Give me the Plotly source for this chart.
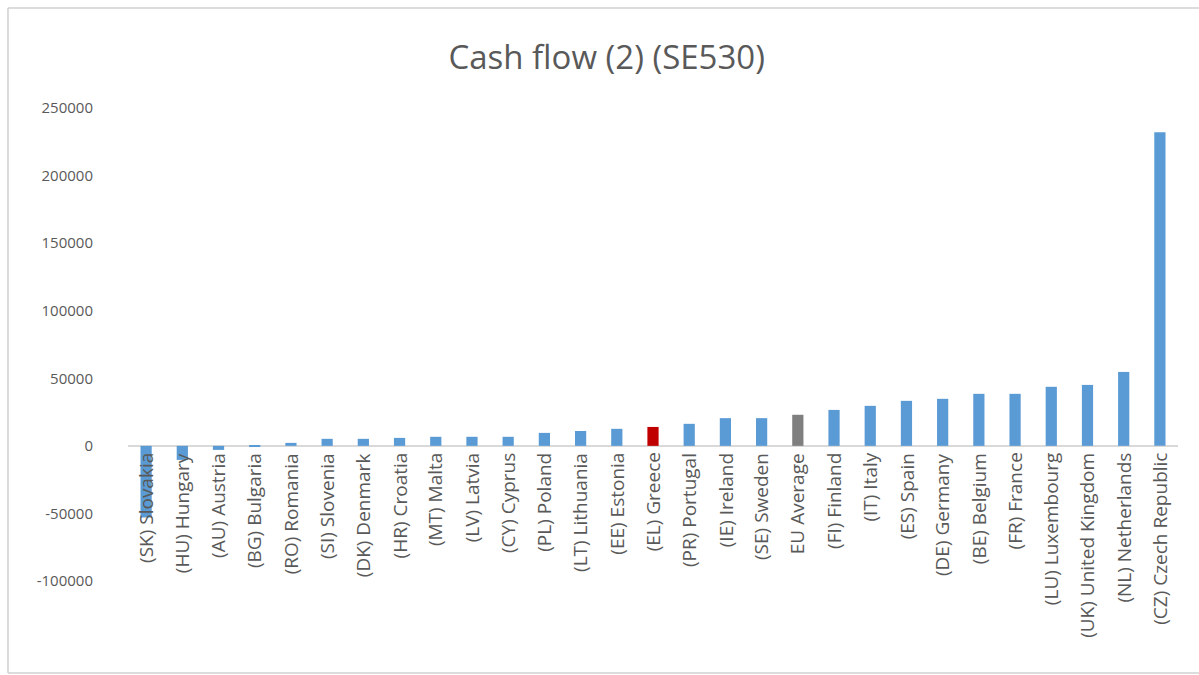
import plotly.graph_objects as go

# Categories, ordered from lowest to highest cash flow
countries = [
    "(SK) Slovakia", "(HU) Hungary", "(AU) Austria", "(BG) Bulgaria", "(RO) Romania",
    "(SI) Slovenia", "(DK) Denmark", "(HR) Croatia", "(MT) Malta", "(LV) Latvia",
    "(CY) Cyprus", "(PL) Poland", "(LT) Lithuania", "(EE) Estonia", "(EL) Greece",
    "(PR) Portugal", "(IE) Ireland", "(SE) Sweden", "EU Average", "(FI) Finland",
    "(IT) Italy", "(ES) Spain", "(DE) Germany", "(BE) Belgium", "(FR) France",
    "(LU) Luxembourg", "(UK) United Kingdom", "(NL) Netherlands", "(CZ) Czech Republic",
]

cash_flow = [
    -53000, -10400, -3000, -500, 2200,
    5200, 5200, 5900, 6700, 6700,
    6700, 9600, 11000, 12600, 14000,
    16300, 20500, 20500, 23000, 26600,
    29600, 33300, 34800, 38500, 38500,
    43700, 45100, 54700, 232000,
]

y_ticks = [-100000, -50000, 0, 50000, 100000, 150000, 200000, 250000]

BLUE = "#5B9BD5"
RED = "#C00000"
GREY = "#7F7F7F"
TEXT = "#595959"

bar_colors = []
for name in countries:
    if name == "(EL) Greece":
        bar_colors.append(RED)
    elif name == "EU Average":
        bar_colors.append(GREY)
    else:
        bar_colors.append(BLUE)

fig = go.Figure(
    go.Bar(
        x=countries,
        y=cash_flow,
        marker=dict(color=bar_colors, line=dict(width=0)),
        showlegend=False,
    )
)

# Category labels sit just under the zero line, rotated upward
for name in countries:
    fig.add_annotation(
        x=name, y=0, xref="x", yref="y",
        text=name, textangle=-90,
        showarrow=False, xanchor="center", yanchor="top",
        yshift=-5,
        font=dict(family="Open Sans", size=19, color=TEXT),
    )

# Light chart frame around the whole figure
frame = dict(color="#D0D0D0", width=1.5)
fig.add_shape(type="line", xref="paper", yref="paper",
              x0=-0.1143, x1=-0.1143, y0=-0.1945, y1=1.2114, line=frame)
fig.add_shape(type="line", xref="paper", yref="paper",
              x0=-0.1143, x1=1.03, y0=1.2114, y1=1.2114, line=frame)
fig.add_shape(type="line", xref="paper", yref="paper",
              x0=-0.1143, x1=1.03, y0=-0.1945, y1=-0.1945, line=frame)

fig.update_layout(
    width=1199,
    height=675,
    margin=dict(l=128, r=21, t=108, b=94),
    paper_bgcolor="white",
    plot_bgcolor="white",
    bargap=0.69,
    title=dict(
        text="Cash flow (2) (SE530)",
        x=0.506, xref="container", xanchor="center",
        y=0.915, yref="container", yanchor="middle",
        font=dict(family="Open Sans", size=33, color=TEXT),
    ),
    xaxis=dict(
        showticklabels=False,
        showgrid=False,
        showline=False,
        zeroline=False,
        ticks="",
    ),
    yaxis=dict(
        range=[-100000, 250000],
        tickvals=y_ticks,
        ticktext=[str(v) for v in y_ticks],
        showgrid=False,
        showline=False,
        zeroline=True,
        zerolinecolor="#D9D9D9",
        zerolinewidth=1.5,
        ticks="",
        ticklabelstandoff=34,
        tickfont=dict(family="Open Sans", size=15, color=TEXT),
    ),
)

fig.write_html("out.html")
